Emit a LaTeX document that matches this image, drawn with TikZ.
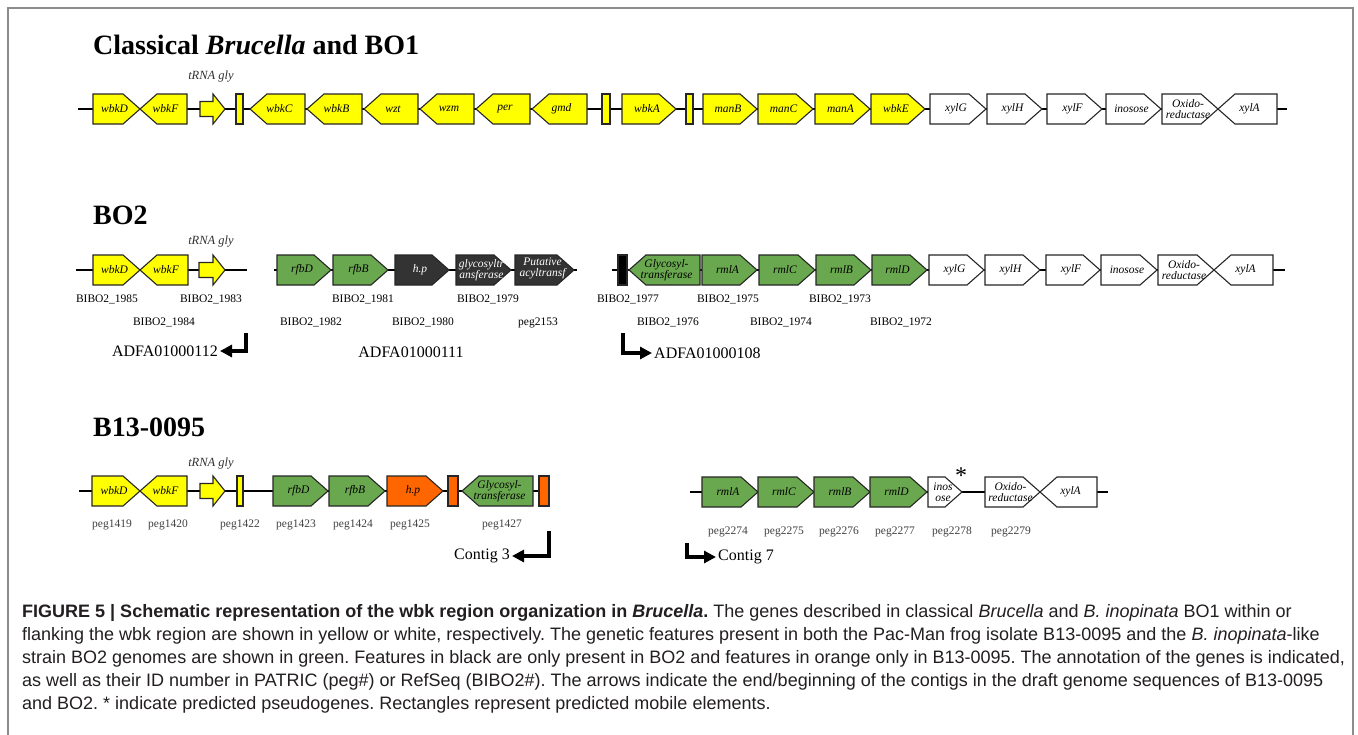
\documentclass[tikz,border=0pt]{standalone}
\usepackage{fontspec}
\setmainfont{Liberation Serif}
\newfontfamily\capfont{Liberation Sans}
\usetikzlibrary{arrows.meta}
\definecolor{yel}{HTML}{FFFF00}
\definecolor{grn}{HTML}{6AA84F}
\definecolor{org}{HTML}{FF6600}
\definecolor{drk}{HTML}{333333}
\definecolor{framec}{HTML}{8C8C8C}
\definecolor{capc}{HTML}{231F20}
\tikzset{
 gene/.style={draw=black!85, line width=1.1pt, line join=miter},
 fY/.style={fill=yel}, fG/.style={fill=grn}, fO/.style={fill=org},
 fD/.style={fill=drk,text=white}, fW/.style={fill=white}, fK/.style={fill=black},
 glab/.style={fill=none,draw=none,inner sep=0pt,font=\fontsize{11.5}{11.5}\selectfont\itshape,align=center},
 bb/.style={line width=1.6pt,black},
 idl/.style={anchor=base,inner sep=0pt,font=\fontsize{11.5}{12}\selectfont},
 pegl/.style={idl,text=black!75},
 ttl/.style={anchor=base west,inner sep=0pt,font=\fontsize{28}{30}\selectfont\bfseries},
 trna/.style={anchor=base,inner sep=0pt,font=\fontsize{12.5}{13}\selectfont\itshape,text=black!80},
 contig/.style={line width=3.5pt,line join=miter,-{Triangle[length=12pt,width=12pt]}},
 ctxt/.style={inner sep=2pt,font=\fontsize{16}{17}\selectfont},
 capl/.style={anchor=base west,inner sep=0pt,font=\capfont\fontsize{18}{20}\selectfont\frenchspacing,text=capc},
}
% right-pointing gene: name, x1, x2, y, fill style, label
\newcommand\gR[6]{%
  \draw[gene,#5] (#2,#4-15) -- ({#3-17},#4-15) -- (#3,#4) -- ({#3-17},#4+15) -- (#2,#4+15) -- cycle;
  \node[#5,glab] (#1) at ({(#2+#3)/2-2},#4) {#6};}
% left-pointing gene
\newcommand\gL[6]{%
  \draw[gene,#5] (#3,#4-15) -- ({#2+17},#4-15) -- (#2,#4) -- ({#2+17},#4+15) -- (#3,#4+15) -- cycle;
  \node[#5,glab] (#1) at ({(#2+#3)/2+2},#4) {#6};}
% mobile element rectangle
\newcommand\gB[5]{%
  \draw[gene,#5] (#2,#4-15) rectangle (#3,#4+15);
  \coordinate (#1) at ({(#2+#3)/2},#4);}
% tRNA block arrow
\newcommand\tA[4]{%
  \draw[gene,fY] (#2,#4-7.5) -- ({#3-12},#4-7.5) -- ({#3-12},#4-15) -- (#3,#4) -- ({#3-12},#4+15) -- ({#3-12},#4+7.5) -- (#2,#4+7.5) -- cycle;
  \coordinate (#1) at ({(#2+#3)/2},#4);}
\begin{document}
\begin{tikzpicture}[x=1pt,y=-1pt]
\useasboundingbox (0,0) rectangle (1358,734);
\fill[white] (0,0) rectangle (1358,734);
\draw[framec,line width=1.3pt] (8,736) -- (8,8) -- (1353,8) -- (1353,736);

% ---------- Row 1 ----------
\node[ttl] (t1) at (93,54) {Classical \textit{Brucella} and BO1};
\coordinate (r1a) at (78,109); \coordinate (r1b) at (1287,109);
\draw[bb] (r1a) -- (r1b);
\gR{r1wbkD}{93}{140}{109}{fY}{wbkD}
\gL{r1wbkF}{140}{187}{109}{fY}{wbkF}
\tA{r1trna}{200}{225}{109}
\node[trna] (r1tl) at (211,79) {tRNA gly};
\gB{r1m1}{236}{243}{109}{fY}
\gL{r1wbkC}{250}{305}{109}{fY}{wbkC}
\gL{r1wbkB}{307}{362}{109}{fY}{wbkB}
\gL{r1wzt}{364}{418}{109}{fY}{wzt}
\gL{r1wzm}{420}{474}{109}{fY}{wzm}
\gL{r1per}{476}{530}{109}{fY}{\raisebox{-4pt}{per}}
\gL{r1gmd}{532}{587}{109}{fY}{\raisebox{-4pt}{gmd}}
\gB{r1m2}{602}{610}{109}{fY}
\gR{r1wbkA}{622}{676}{109}{fY}{wbkA}
\gB{r1m3}{686}{693}{109}{fY}
\gR{r1manB}{703}{757}{109}{fY}{manB}
\gR{r1manC}{758}{813}{109}{fY}{manC}
\gR{r1manA}{815}{870}{109}{fY}{manA}
\gR{r1wbkE}{871}{925}{109}{fY}{wbkE}
\gR{r1xylG}{930}{986}{109}{fW}{xylG}
\gR{r1xylH}{987}{1042}{109}{fW}{xylH}
\gR{r1xylF}{1047}{1102}{109}{fW}{xylF}
\gR{r1ino}{1106}{1161}{109}{fW}{inosose}
\gR{r1oxi}{1162}{1218}{109}{fW}{Oxido-\\reductase}
\gL{r1xylA}{1218}{1277}{109}{fW}{xylA}

% ---------- Row 2 ----------
\node[ttl] (t2) at (93,224) {BO2};
\coordinate (r2a) at (76,270); \coordinate (r2b) at (247,270);
\coordinate (r2c) at (274,270); \coordinate (r2d) at (577,270);
\coordinate (r2e) at (612,270); \coordinate (r2f) at (1285,270);
\draw[bb] (r2a) -- (r2b);
\draw[bb] (r2c) -- (r2d);
\draw[bb] (r2e) -- (r2f);
\gR{r2wbkD}{93}{140}{270}{fY}{wbkD}
\gL{r2wbkF}{140}{188}{270}{fY}{wbkF}
\tA{r2trna}{199}{225}{270}
\node[trna] (r2tl) at (211,244) {tRNA gly};
\gR{r2rfbD}{277}{331}{270}{fG}{rfbD}
\gR{r2rfbB}{333}{388}{270}{fG}{rfbB}
\gR{r2hp}{395}{449}{270}{fD}{h.p}
\gR{r2gly}{456}{511}{270}{fD}{glycosyltr\\ansferase}
\gR{r2put}{515}{574}{270}{fD}{\raisebox{5pt}{\shortstack{Putative\\acyltransf}}}
\gB{r2m1}{618}{627}{270}{fK}
\gL{r2glyt}{629}{700}{270}{fG}{Glycosyl-\\transferase}
\gR{r2rmlA}{702}{757}{270}{fG}{rmlA}
\gR{r2rmlC}{759}{815}{270}{fG}{rmlC}
\gR{r2rmlB}{816}{871}{270}{fG}{rmlB}
\gR{r2rmlD}{872}{927}{270}{fG}{rmlD}
\gR{r2xylG}{929}{984}{270}{fW}{xylG}
\gR{r2xylH}{985}{1040}{270}{fW}{xylH}
\gR{r2xylF}{1046}{1100}{270}{fW}{xylF}
\gR{r2ino}{1101}{1157}{270}{fW}{inosose}
\gR{r2oxi}{1158}{1214}{270}{fW}{Oxido-\\reductase}
\gL{r2xylA}{1214}{1273}{270}{fW}{xylA}
% IDs
\node[idl] (i1985) at (107,302) {BIBO2\_1985};
\node[idl] (i1983) at (211,302) {BIBO2\_1983};
\node[idl] (i1984) at (164,325) {BIBO2\_1984};
\node[idl] (i1981) at (363,302) {BIBO2\_1981};
\node[idl] (i1979) at (488,302) {BIBO2\_1979};
\node[idl] (i1982) at (311,325) {BIBO2\_1982};
\node[idl] (i1980) at (423,325) {BIBO2\_1980};
\node[idl] (i2153) at (538,325) {peg2153};
\node[idl] (i1977) at (628,302) {BIBO2\_1977};
\node[idl] (i1975) at (728,302) {BIBO2\_1975};
\node[idl] (i1973) at (840,302) {BIBO2\_1973};
\node[idl] (i1976) at (668,325) {BIBO2\_1976};
\node[idl] (i1974) at (781,325) {BIBO2\_1974};
\node[idl] (i1972) at (901,325) {BIBO2\_1972};
% contig ends
\node[ctxt,anchor=east] (c112) at (220,351) {ADFA01000112};
\coordinate (h112) at (246,333);
\draw[contig] (h112) |- (c112.east);
\node[ctxt] (c111) at (411,352) {ADFA01000111};
\node[ctxt,anchor=west] (c108) at (652,353) {ADFA01000108};
\coordinate (h108) at (623,333);
\draw[contig] (h108) |- (c108.west);

% ---------- Row 3 ----------
\node[ttl] (t3) at (93,436) {B13-0095};
\coordinate (r3a) at (79,491); \coordinate (r3b) at (545,491);
\coordinate (r3c) at (690,492); \coordinate (r3d) at (1108,492);
\draw[bb] (r3a) -- (r3b);
\draw[bb] (r3c) -- (r3d);
\gR{r3wbkD}{92}{140}{491}{fY}{wbkD}
\gL{r3wbkF}{140}{187}{491}{fY}{wbkF}
\tA{r3trna}{200}{225}{491}
\node[trna] (r3tl) at (211,466) {tRNA gly};
\gB{r3m1}{237}{243}{491}{fY}
\gR{r3rfbD}{273}{328}{491}{fG}{rfbD}
\gR{r3rfbB}{329}{385}{491}{fG}{rfbB}
\gR{r3hp}{387}{443}{491}{fO}{h.p}
\gB{r3m2}{448}{458}{491}{fO}
\gL{r3glyt}{462}{533}{491}{fG}{Glycosyl-\\transferase}
\gB{r3m3}{539}{549}{491}{fO}
\node[pegl] (p1419) at (112,527) {peg1419};
\node[pegl] (p1420) at (168,527) {peg1420};
\node[pegl] (p1422) at (240,527) {peg1422};
\node[pegl] (p1423) at (296,527) {peg1423};
\node[pegl] (p1424) at (353,527) {peg1424};
\node[pegl] (p1425) at (410,527) {peg1425};
\node[pegl] (p1427) at (502,527) {peg1427};
\node[ctxt,anchor=east] (cg3) at (512,556) {Contig 3};
\coordinate (h3) at (549,531);
\draw[contig] (h3) |- (cg3.east);

\gR{r3rmlA}{702}{758}{492}{fG}{rmlA}
\gR{r3rmlC}{758}{814}{492}{fG}{rmlC}
\gR{r3rmlB}{814}{870}{492}{fG}{rmlB}
\gR{r3rmlD}{870}{927}{492}{fG}{rmlD}
\gR{r3ino}{928}{962}{492}{fW}{inos\\ose}
\node[inner sep=0pt,font=\fontsize{24}{24}\selectfont] (ast) at (961,476) {*};
\gR{r3oxi}{985}{1040}{492}{fW}{Oxido-\\reductase}
\gL{r3xylA}{1040}{1097}{492}{fW}{xylA}
\node[pegl] (p2274) at (728,534) {peg2274};
\node[pegl] (p2275) at (784,534) {peg2275};
\node[pegl] (p2276) at (839,534) {peg2276};
\node[pegl] (p2277) at (895,534) {peg2277};
\node[pegl] (p2278) at (952,534) {peg2278};
\node[pegl] (p2279) at (1011,534) {peg2279};
\node[ctxt,anchor=west] (cg7) at (716,557) {Contig 7};
\coordinate (h7) at (687,543);
\draw[contig] (h7) |- (cg7.west);

% ---------- Caption ----------
\node[capl] (cap1) at (22,617) {\bfseries FIGURE 5 | Schematic representation of the wbk region organization in \textit{Brucella}.\mdseries{} The genes described in classical \textit{Brucella} and \textit{B. inopinata} BO1 within or};
\node[capl] (cap2) at (22,640) {flanking the wbk region are shown in yellow or white, respectively. The genetic features present in both the Pac-Man frog isolate B13-0095 and the \textit{B. inopinata}-like};
\node[capl] (cap3) at (22,663) {strain BO2 genomes are shown in green. Features in black are only present in BO2 and features in orange only in B13-0095. The annotation of the genes is indicated,};
\node[capl] (cap4) at (22,686) {as well as their ID number in PATRIC (peg\#) or RefSeq (BIBO2\#). The arrows indicate the end/beginning of the contigs in the draft genome sequences of B13-0095};
\node[capl] (cap5) at (22,709) {and BO2. * indicate predicted pseudogenes. Rectangles represent predicted mobile elements.};
\end{tikzpicture}
\end{document}
